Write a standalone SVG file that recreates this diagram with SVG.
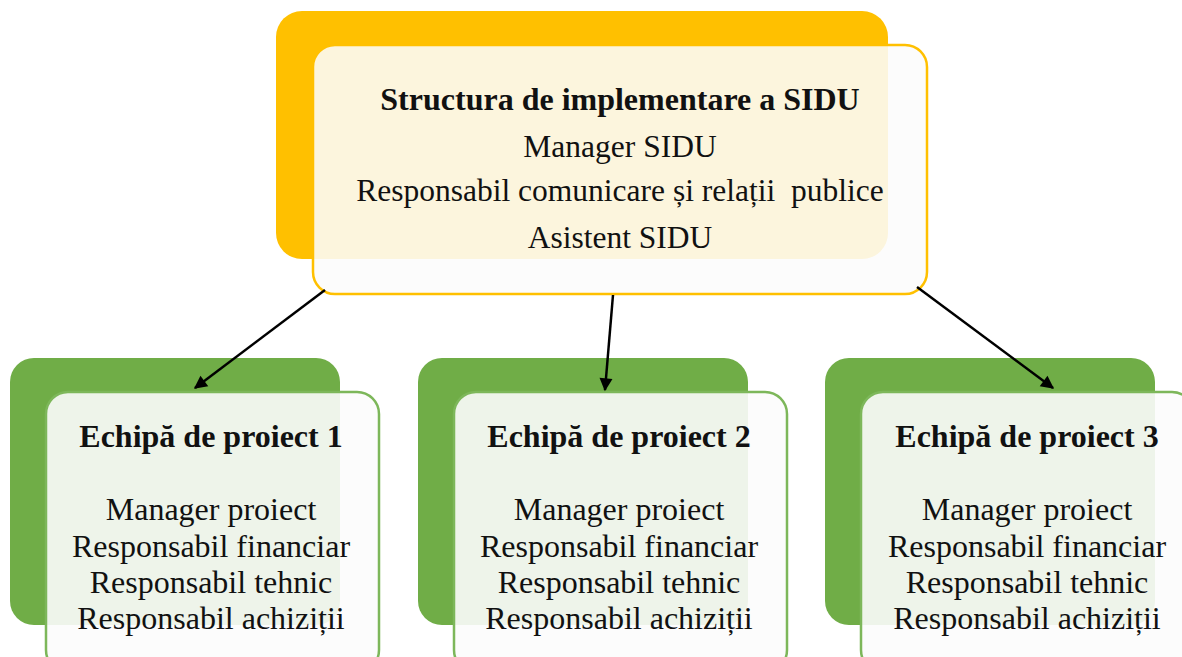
<svg xmlns="http://www.w3.org/2000/svg" width="1182" height="657" viewBox="0 0 1182 657">
<defs>
<marker id="ah" viewBox="0 0 10 10" refX="9" refY="5" markerWidth="16" markerHeight="13" orient="auto" markerUnits="userSpaceOnUse" style="overflow:visible">
<path d="M0,0 L10,5 L0,10 z" fill="#000"/>
</marker>
<style>
.back-o{fill:#FFC000}
.front-o{fill:#FCFCFC;fill-opacity:0.88;stroke:#FFC000;stroke-width:2.5}
.back-g{fill:#70AD47}
.front-g{fill:#FCFCFC;fill-opacity:0.9;stroke:#7DB75A;stroke-width:2.5}
.t{font-family:"Liberation Serif","Times New Roman",serif;fill:#111;text-anchor:middle}
.b{font-weight:bold;font-size:32px}
.r{font-size:31.5px}
.rr{font-size:32px}
.rb{font-weight:bold;font-size:32px}
.conn{stroke:#000;stroke-width:2.5;fill:none}
</style>
</defs>
<rect width="1182" height="657" fill="#fff"/>
<g id="node-top">
<rect class="back-o" x="276" y="11" width="612" height="248" rx="26"/>
<rect class="front-o" x="313" y="45" width="614" height="249" rx="22"/>
<text class="t b" x="620" y="110">Structura de implementare a SIDU</text>
<text class="t r" x="620" y="157">Manager SIDU</text>
<text class="t r" x="620" y="201" xml:space="preserve">Responsabil comunicare și relații  publice</text>
<text class="t r" x="620" y="248">Asistent SIDU</text>
</g>
<g id="node-p1">
<rect class="back-g" x="10" y="358" width="330" height="267" rx="24"/>
<rect class="front-g" x="46" y="392" width="333" height="280" rx="22"/>
<text class="t rb" x="211" y="447">Echipă de proiect 1</text>
<text class="t rr" x="211" y="520">Manager proiect</text>
<text class="t rr" x="211" y="557">Responsabil financiar</text>
<text class="t rr" x="211" y="593">Responsabil tehnic</text>
<text class="t rr" x="211" y="629">Responsabil achiziții</text>
</g>
<g id="node-p2">
<rect class="back-g" x="418" y="358" width="330" height="267" rx="24"/>
<rect class="front-g" x="454" y="392" width="333" height="280" rx="22"/>
<text class="t rb" x="619" y="447">Echipă de proiect 2</text>
<text class="t rr" x="619" y="520">Manager proiect</text>
<text class="t rr" x="619" y="557">Responsabil financiar</text>
<text class="t rr" x="619" y="593">Responsabil tehnic</text>
<text class="t rr" x="619" y="629">Responsabil achiziții</text>
</g>
<g id="node-p3">
<rect class="back-g" x="825" y="358" width="330" height="267" rx="24"/>
<rect class="front-g" x="861" y="392" width="333" height="280" rx="22"/>
<text class="t rb" x="1027" y="447">Echipă de proiect 3</text>
<text class="t rr" x="1027" y="520">Manager proiect</text>
<text class="t rr" x="1027" y="557">Responsabil financiar</text>
<text class="t rr" x="1027" y="593">Responsabil tehnic</text>
<text class="t rr" x="1027" y="629">Responsabil achiziții</text>
</g>
<g id="connectors">
<line class="conn" x1="325" y1="290" x2="195" y2="388" marker-end="url(#ah)"/>
<line class="conn" x1="613" y1="295" x2="605" y2="390" marker-end="url(#ah)"/>
<line class="conn" x1="917" y1="287" x2="1053" y2="388" marker-end="url(#ah)"/>
</g>
</svg>
